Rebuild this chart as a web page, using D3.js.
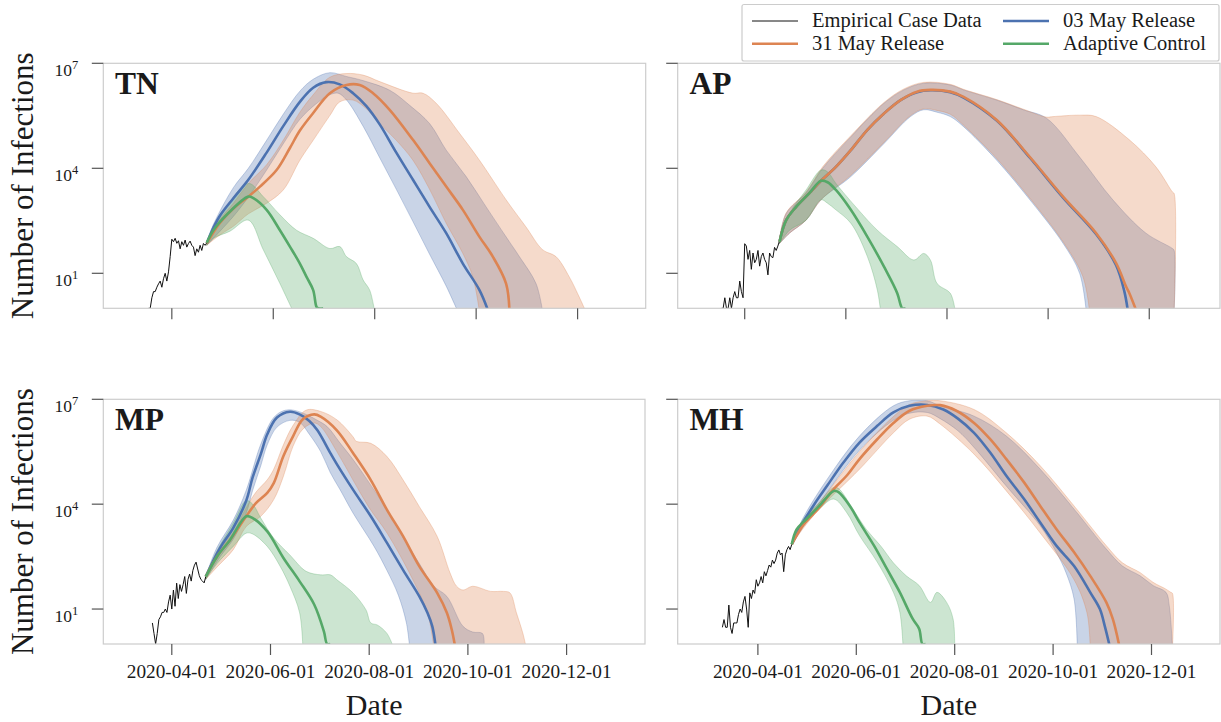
<!DOCTYPE html>
<html><head><meta charset="utf-8">
<script src="https://cdn.jsdelivr.net/npm/d3@7"></script>
<style>
body{margin:0;background:#fff}
svg{display:block}
text{font-family:"Liberation Serif","Times New Roman",serif;fill:#1a1a1a}
</style>
</head><body>
<svg id="c" width="1221" height="722"></svg>
<script>
// ---------------- DATA ----------------
const legendLabels = ["Empirical Case Data", "31 May Release", "03 May Release", "Adaptive Control"];
const xTickLabels = ["2020-04-01", "2020-06-01", "2020-08-01", "2020-10-01", "2020-12-01"];
const yTickValues = [10, 1e4, 1e7];
const stateNames = ["TN", "AP", "MP", "MH"];

// ---- TN ----
const tnEmpStart = "2020-03-18";
const tnEmp = [1,1,2,3,3,4,5,6,4,7,10,6,11,30,94,80,100,72,85,50,80,63,89,56,71,83,63,56,32,50,40,63,45,71,63,74];
const tnBlue = [["2020-04-22",72],["2020-04-26",200],["2020-04-30",450],["2020-05-08",1400],["2020-05-17",4700],["2020-05-28",28000],["2020-06-07",1.6e5],["2020-06-17",7.9e5],["2020-06-25",2.0e6],["2020-07-03",2.9e6],["2020-07-11",2.5e6],["2020-07-19",1.4e6],["2020-07-27",6.0e5],["2020-08-04",1.8e5],["2020-08-14",28000],["2020-08-24",4700],["2020-09-03",790],["2020-09-13",140],["2020-09-23",19],["2020-10-03",3.3],["2020-10-08",0.9]];
const tnBlueHi = [["2020-04-22",80],["2020-04-26",250],["2020-05-08",2800],["2020-05-17",1e4],["2020-05-28",63000],["2020-06-07",3.5e5],["2020-06-17",1.6e6],["2020-06-25",3.5e6],["2020-07-05",5.4e6],["2020-07-15",4.2e6],["2020-07-25",3.2e6],["2020-08-10",1.7e6],["2020-08-22",6.3e5],["2020-09-03",1.9e5],["2020-09-13",33000],["2020-09-25",5800],["2020-10-07",790],["2020-10-19",110],["2020-10-27",30],["2020-11-06",5.1],["2020-11-10",0.8]];
const tnBlueLo = [["2020-04-22",63],["2020-04-30",160],["2020-05-08",420],["2020-05-17",1500],["2020-05-28",8900],["2020-06-07",50000],["2020-06-17",2.5e5],["2020-06-27",7.1e5],["2020-07-05",1.26e6],["2020-07-10",1.4e6],["2020-07-15",9e5],["2020-07-25",1.6e5],["2020-08-04",20000],["2020-08-14",2500],["2020-08-24",300],["2020-09-03",35],["2020-09-13",4.3],["2020-09-20",0.8]];
const tnOrange = [["2020-04-22",72],["2020-04-30",280],["2020-05-08",710],["2020-05-17",1550],["2020-05-24",3000],["2020-06-03",8900],["2020-06-11",38000],["2020-06-17",1.2e5],["2020-06-25",3.8e5],["2020-07-05",1.4e6],["2020-07-15",2.4e6],["2020-07-23",2.4e6],["2020-07-31",1.4e6],["2020-08-10",4.7e5],["2020-08-24",65000],["2020-09-03",14000],["2020-09-13",3000],["2020-09-23",650],["2020-10-03",110],["2020-10-11",30],["2020-10-19",5.1],["2020-10-21",0.9]];
const tnOrangeHi = [["2020-04-22",80],["2020-04-30",350],["2020-05-08",1000],["2020-05-17",3700],["2020-05-28",12600],["2020-06-07",63000],["2020-06-17",4e5],["2020-06-25",1.26e6],["2020-07-05",4e6],["2020-07-15",5.1e6],["2020-07-25",4.6e6],["2020-08-04",3e6],["2020-08-24",1.4e6],["2020-08-30",1.4e6],["2020-09-07",7.2e5],["2020-09-21",1e5],["2020-10-03",17000],["2020-10-19",1260],["2020-10-31",210],["2020-11-10",47],["2020-11-18",30],["2020-11-26",7.9],["2020-12-02",2.1],["2020-12-06",0.8]];
const tnOrangeLo = [["2020-04-22",63],["2020-04-30",126],["2020-05-08",220],["2020-05-17",500],["2020-05-28",1000],["2020-06-07",2400],["2020-06-17",17000],["2020-06-25",63000],["2020-07-05",3.2e5],["2020-07-11",7.9e5],["2020-07-19",8.9e5],["2020-07-27",5e5],["2020-08-04",1.9e5],["2020-08-14",63000],["2020-08-24",17000],["2020-09-03",2500],["2020-09-13",270],["2020-09-23",37],["2020-09-29",7.9],["2020-10-03",0.8]];
const tnGreen = [["2020-04-22",74],["2020-04-26",170],["2020-05-04",470],["2020-05-17",1550],["2020-05-20",1400],["2020-05-28",650],["2020-06-05",170],["2020-06-11",58],["2020-06-17",19],["2020-06-21",7.9],["2020-06-25",3.3],["2020-06-27",1.1],["2020-06-28",1],["2020-07-01",1]];
const tnGreenHi = [["2020-04-22",80],["2020-05-04",790],["2020-05-17",3700],["2020-05-26",1550],["2020-06-05",470],["2020-06-15",170],["2020-06-25",100],["2020-07-05",51],["2020-07-11",58],["2020-07-15",30],["2020-07-21",19],["2020-07-25",6.5],["2020-07-29",3.3],["2020-08-01",0.8]];
const tnGreenLo = [["2020-04-22",63],["2020-04-26",100],["2020-05-06",160],["2020-05-17",330],["2020-05-26",47],["2020-06-05",5.1],["2020-06-13",0.8]];

// ---- AP ----
const apEmpStart = "2020-03-18";
const apEmp = [1,1,2,1,1,2,1,2,3,2,2,6,3,2,70,60,25,45,13,38,20,25,45,16,30,38,25,20,9,38,30,28,55,45,60,85];
const apBlue = [["2020-04-22",80],["2020-04-26",330],["2020-05-02",790],["2020-05-10",1950],["2020-05-17",4400],["2020-05-26",11000],["2020-06-04",33000],["2020-06-14",1.26e5],["2020-06-24",3.7e5],["2020-07-04",8.9e5],["2020-07-14",1.5e6],["2020-07-22",1.7e6],["2020-08-03",1.5e6],["2020-08-11",1.05e6],["2020-08-31",2.3e5],["2020-09-20",20000],["2020-10-10",1450],["2020-10-30",130],["2020-11-11",17],["2020-11-16",3],["2020-11-18",0.9]];
const apBlueHi = [["2020-04-22",89],["2020-04-26",510],["2020-05-08",2000],["2020-05-18",1e4],["2020-06-04",79000],["2020-06-24",7.2e5],["2020-07-06",1.74e6],["2020-07-18",2.7e6],["2020-08-03",2.4e6],["2020-08-11",1.74e6],["2020-08-31",8.9e5],["2020-09-16",4.7e5],["2020-09-30",2.7e5],["2020-10-20",21000],["2020-11-09",1260],["2020-11-29",140],["2020-12-15",51],["2020-12-16",45],["2020-12-16",0.8]];
const apBlueLo = [["2020-04-22",71],["2020-04-28",140],["2020-05-08",330],["2020-05-17",1260],["2020-06-04",5800],["2020-06-24",51000],["2020-07-10",3e5],["2020-07-18",4.7e5],["2020-07-26",4e5],["2020-08-03",3e5],["2020-08-11",1.55e5],["2020-08-31",17000],["2020-09-20",1260],["2020-10-10",72],["2020-10-20",10],["2020-10-24",0.8]];
const apOrange = [["2020-04-22",80],["2020-04-26",330],["2020-05-02",790],["2020-05-10",1950],["2020-05-17",4400],["2020-05-26",11000],["2020-06-04",33000],["2020-06-14",1.26e5],["2020-06-24",3.7e5],["2020-07-04",8.9e5],["2020-07-14",1.55e6],["2020-07-22",1.74e6],["2020-08-03",1.55e6],["2020-08-11",1.1e6],["2020-08-31",2.4e5],["2020-09-20",21000],["2020-10-10",1550],["2020-10-30",140],["2020-11-11",19.5],["2020-11-17",4.2],["2020-11-19",2.7],["2020-11-23",0.9]];
const apOrangeHi = [["2020-04-22",92],["2020-04-26",530],["2020-05-08",2100],["2020-05-18",1.1e4],["2020-06-04",85000],["2020-06-24",7.6e5],["2020-07-06",1.85e6],["2020-07-18",2.85e6],["2020-08-03",2.5e6],["2020-08-11",1.8e6],["2020-08-31",9.2e5],["2020-09-16",4.9e5],["2020-09-30",2.9e5],["2020-10-04",3e5],["2020-10-20",3.3e5],["2020-10-30",3e5],["2020-11-19",65000],["2020-12-05",11000],["2020-12-15",2100],["2020-12-16",1900],["2020-12-16",0.8]];
const apOrangeLo = [["2020-04-22",71],["2020-04-28",140],["2020-05-08",330],["2020-05-17",1260],["2020-06-04",6300],["2020-06-24",55000],["2020-07-10",3.2e5],["2020-07-18",5e5],["2020-07-26",4.5e5],["2020-08-03",3.5e5],["2020-08-11",1.7e5],["2020-08-31",19000],["2020-09-20",1400],["2020-10-10",80],["2020-10-22",8],["2020-10-26",0.8]];
const apGreen = [["2020-04-22",80],["2020-04-26",330],["2020-05-02",790],["2020-05-10",1950],["2020-05-17",4400],["2020-05-21",4000],["2020-05-26",2400],["2020-06-04",650],["2020-06-14",110],["2020-06-24",15.5],["2020-07-02",2.7],["2020-07-04",1.26],["2020-07-05",1],["2020-07-07",1]];
const apGreenHi = [["2020-04-22",89],["2020-04-28",510],["2020-05-08",2400],["2020-05-17",8900],["2020-05-21",7900],["2020-05-26",3700],["2020-06-07",790],["2020-06-20",170],["2020-07-02",58],["2020-07-12",24],["2020-07-18",37],["2020-07-22",24],["2020-07-26",5.1],["2020-08-03",2.7],["2020-08-06",0.8]];
const apGreenLo = [["2020-04-22",71],["2020-04-28",170],["2020-05-08",330],["2020-05-17",1260],["2020-05-21",1000],["2020-05-26",650],["2020-06-04",270],["2020-06-14",30],["2020-06-20",3.3],["2020-06-22",0.8]];

// ---- MP ----
const mpEmpStart = "2020-03-20";
const mpEmp = [4,2,1,2,5,6,8,8,10,8,16,25,10,35,12,55,20,50,32,50,85,28,70,100,63,126,180,220,140,90,70,63,56,85];
const mpBlue = [["2020-04-22",85],["2020-05-01",580],["2020-05-09",2100],["2020-05-17",12600],["2020-05-21",59000],["2020-05-26",2.7e5],["2020-05-30",1e6],["2020-06-05",3e6],["2020-06-13",4.4e6],["2020-06-19",3.7e6],["2020-06-25",2.4e6],["2020-06-30",1.3e6],["2020-07-08",2.9e5],["2020-07-12",1.4e5],["2020-07-22",26000],["2020-08-02",4500],["2020-08-12",780],["2020-08-22",130],["2020-09-01",23],["2020-09-06",7.8],["2020-09-09",3.2],["2020-09-11",0.9]];
const mpBlueHi = [["2020-04-22",89],["2020-04-29",590],["2020-05-09",3500],["2020-05-17",25000],["2020-05-26",5.2e5],["2020-06-03",3e6],["2020-06-09",4.7e6],["2020-06-15",4.9e6],["2020-06-23",3.7e6],["2020-06-30",2.5e6],["2020-07-06",1.66e6],["2020-07-14",5.6e5],["2020-07-22",1.9e5],["2020-08-02",35000],["2020-08-12",6900],["2020-08-22",1100],["2020-09-01",200],["2020-09-10",45],["2020-09-18",23],["2020-09-28",3.2],["2020-10-04",2.2],["2020-10-10",2],["2020-10-11",0.8]];
const mpBlueLo = [["2020-04-22",71],["2020-05-01",320],["2020-05-09",1000],["2020-05-17",5600],["2020-05-21",25000],["2020-05-26",1.26e5],["2020-05-30",5e5],["2020-06-05",1.6e6],["2020-06-13",2.5e6],["2020-06-19",2.2e6],["2020-06-25",1e6],["2020-07-02",3.2e5],["2020-07-08",79000],["2020-07-14",26000],["2020-07-22",5600],["2020-08-04",620],["2020-08-12",126],["2020-08-19",25],["2020-08-24",4],["2020-08-26",0.8]];
const mpOrange = [["2020-04-22",85],["2020-04-29",320],["2020-05-07",950],["2020-05-17",4500],["2020-05-23",10700],["2020-05-30",21000],["2020-06-03",40000],["2020-06-09",2.4e5],["2020-06-15",8.9e5],["2020-06-21",2.7e6],["2020-06-28",3.7e6],["2020-07-02",3.2e6],["2020-07-12",1.3e6],["2020-07-22",2.9e5],["2020-08-02",49000],["2020-08-12",6900],["2020-08-22",1200],["2020-09-01",166],["2020-09-12",29],["2020-09-18",7.8],["2020-09-21",2.6],["2020-09-23",0.9]];
const mpOrangeHi = [["2020-04-22",89],["2020-04-29",400],["2020-05-09",1600],["2020-05-17",7900],["2020-05-23",22000],["2020-05-30",50000],["2020-06-03",1e5],["2020-06-09",5e5],["2020-06-15",1.8e6],["2020-06-23",4.9e6],["2020-07-02",4.5e6],["2020-07-12",2.6e6],["2020-07-22",8.5e5],["2020-07-24",6.3e5],["2020-08-02",5.5e5],["2020-08-12",2.3e5],["2020-08-22",49000],["2020-09-01",8500],["2020-09-12",1200],["2020-09-20",107],["2020-09-24",45],["2020-09-28",35],["2020-10-04",45],["2020-10-15",32],["2020-10-23",32],["2020-10-27",29],["2020-10-31",7.8],["2020-11-04",2],["2020-11-06",0.8]];
const mpOrangeLo = [["2020-04-22",71],["2020-04-29",160],["2020-05-09",500],["2020-05-17",2300],["2020-05-26",4500],["2020-06-03",13500],["2020-06-09",63000],["2020-06-15",4.6e5],["2020-06-21",1.4e6],["2020-06-28",2.1e6],["2020-07-02",1.66e6],["2020-07-12",3.2e5],["2020-07-22",49000],["2020-08-01",7900],["2020-08-12",1500],["2020-08-28",69],["2020-09-06",7.8],["2020-09-10",0.8]];
const mpGreen = [["2020-04-22",85],["2020-04-29",320],["2020-05-07",950],["2020-05-17",4500],["2020-05-21",4000],["2020-05-30",1660],["2020-06-09",290],["2020-06-19",62],["2020-06-28",13.5],["2020-07-04",2.3],["2020-07-06",1],["2020-07-08",1]];
const mpGreenHi = [["2020-04-22",89],["2020-04-29",470],["2020-05-09",2900],["2020-05-17",12600],["2020-05-21",10000],["2020-05-26",4000],["2020-06-03",1070],["2020-06-13",350],["2020-06-23",120],["2020-07-02",95],["2020-07-08",95],["2020-07-12",69],["2020-07-22",29],["2020-07-30",9.5],["2020-08-02",4],["2020-08-06",3.5],["2020-08-12",2],["2020-08-16",0.8]];
const mpGreenLo = [["2020-04-22",71],["2020-04-29",200],["2020-05-09",620],["2020-05-17",1480],["2020-05-21",1400],["2020-05-30",620],["2020-06-07",166],["2020-06-13",45],["2020-06-19",7.8],["2020-06-21",0.8]];

// ---- MH ----
const mhEmpStart = "2020-03-10";
const mhEmp = [3,5,3,3,13,3,2,4,4,4,7,10,8,16,23,10,3,29,20,35,28,69,45,56,85,56,117,89,126,182,158,251,200,251,398,490,355,400,117,355,500,617,500,708];
const mhBlue = [["2020-04-22",710],["2020-04-29",3000],["2020-05-06",10000],["2020-05-14",34000],["2020-05-24",1.55e5],["2020-06-03",5.8e5],["2020-06-14",1.74e6],["2020-06-24",4.2e6],["2020-07-04",6.5e6],["2020-07-15",6.9e6],["2020-07-25",5.1e6],["2020-08-03",2.8e6],["2020-08-13",1.1e6],["2020-08-23",3e5],["2020-09-02",65000],["2020-09-13",14000],["2020-09-23",3000],["2020-10-03",650],["2020-10-14",170],["2020-10-24",30],["2020-10-30",10],["2020-11-02",3.3],["2020-11-05",0.9]];
const mhBlueHi = [["2020-04-22",740],["2020-04-29",4000],["2020-05-14",52000],["2020-06-03",8.9e5],["2020-06-24",6.5e6],["2020-07-04",9.1e6],["2020-07-15",9.1e6],["2020-07-23",6.5e6],["2020-08-13",3.3e6],["2020-09-02",8.9e5],["2020-09-23",1e5],["2020-10-14",7200],["2020-11-03",520],["2020-11-13",170],["2020-11-24",89],["2020-12-02",47],["2020-12-10",30],["2020-12-12",12.6],["2020-12-14",0.8]];
const mhBlueLo = [["2020-04-22",680],["2020-04-29",2200],["2020-05-14",22000],["2020-06-03",3.5e5],["2020-06-24",2.5e6],["2020-07-04",4e6],["2020-07-15",4.2e6],["2020-07-23",2.8e6],["2020-08-03",1.26e6],["2020-08-13",4.2e5],["2020-09-02",33000],["2020-09-23",2400],["2020-10-03",420],["2020-10-09",110],["2020-10-14",19.5],["2020-10-16",0.8]];
const mhOrange = [["2020-04-22",710],["2020-04-29",2500],["2020-05-09",7900],["2020-05-18",27000],["2020-05-26",65000],["2020-06-03",1.95e5],["2020-06-14",7.2e5],["2020-06-24",2.1e6],["2020-07-04",4.7e6],["2020-07-15",6.5e6],["2020-07-23",6.8e6],["2020-08-02",4.7e6],["2020-08-13",2.1e6],["2020-08-23",7.2e5],["2020-09-02",1.95e5],["2020-09-13",42000],["2020-09-23",8900],["2020-10-03",1950],["2020-10-14",420],["2020-10-24",89],["2020-11-03",15.5],["2020-11-07",5.2],["2020-11-11",0.9]];
const mhOrangeHi = [["2020-04-22",740],["2020-04-29",3200],["2020-05-09",11000],["2020-06-03",3.2e5],["2020-06-24",3.2e6],["2020-07-04",7.1e6],["2020-07-15",9.1e6],["2020-07-23",9.1e6],["2020-08-13",5.1e6],["2020-09-02",1.1e6],["2020-09-23",1.26e5],["2020-10-14",8900],["2020-11-03",650],["2020-11-13",210],["2020-11-24",110],["2020-12-02",58],["2020-12-10",37],["2020-12-13",30],["2020-12-14",28],["2020-12-14",0.8]];
const mhOrangeLo = [["2020-04-22",680],["2020-04-29",2000],["2020-05-09",7200],["2020-06-03",1e5],["2020-06-24",1.1e6],["2020-07-04",2.7e6],["2020-07-15",3.3e6],["2020-07-23",1.95e6],["2020-08-13",2.7e5],["2020-09-02",24000],["2020-09-23",1500],["2020-10-14",69],["2020-10-22",7.8],["2020-10-24",0.8]];
const mhGreen = [["2020-04-22",710],["2020-04-25",1900],["2020-05-01",3700],["2020-05-09",8900],["2020-05-18",24000],["2020-05-21",22000],["2020-05-28",8900],["2020-06-03",3000],["2020-06-12",650],["2020-06-20",140],["2020-06-28",30],["2020-07-06",5.2],["2020-07-10",2.7],["2020-07-12",1],["2020-07-14",1]];
const mhGreenHi = [["2020-04-22",740],["2020-04-29",3700],["2020-05-09",11000],["2020-05-18",30000],["2020-05-21",28000],["2020-05-30",7200],["2020-06-07",1950],["2020-06-16",650],["2020-06-24",210],["2020-07-02",89],["2020-07-10",47],["2020-07-17",15.5],["2020-07-21",30],["2020-07-27",15.5],["2020-07-31",5.2],["2020-08-01",0.8]];
const mhGreenLo = [["2020-04-22",680],["2020-04-29",2400],["2020-05-09",7200],["2020-05-18",14000],["2020-05-26",5800],["2020-06-03",1260],["2020-06-14",220],["2020-06-24",30],["2020-06-28",8.1],["2020-06-30",0.8]];

// x-axis limits of each panel
const tnXLim = ["2020-02-19T19:00", "2021-01-10T23:00"];
const apXLim = ["2020-02-20T14:00", "2021-01-12T16:00"];
const mpXLim = ["2020-02-18T16:00", "2021-01-18T11:00"];
const mhXLim = ["2020-02-11T07:00", "2021-01-12T11:00"];

// ---------------- DRAW ----------------
const colBlue = "#4C72B0", colOrange = "#DD8452", colGreen = "#55A868";
const pDay = d3.timeParse("%Y-%m-%d");
const pLim = d3.timeParse("%Y-%m-%dT%H:%M");
const svg = d3.select("#c");

const panels = [
  {name: stateNames[0], lim: tnXLim, empStart: tnEmpStart, emp: tnEmp,
   blue: [tnBlue, tnBlueHi, tnBlueLo], orange: [tnOrange, tnOrangeHi, tnOrangeLo], green: [tnGreen, tnGreenHi, tnGreenLo],
   box: {x: 103.3, y: 63.3, w: 542.4, h: 245}, yLab: true, xLab: false},
  {name: stateNames[1], lim: apXLim, empStart: apEmpStart, emp: apEmp,
   blue: [apBlue, apBlueHi, apBlueLo], orange: [apOrange, apOrangeHi, apOrangeLo], green: [apGreen, apGreenHi, apGreenLo],
   box: {x: 677.7, y: 63.3, w: 542.3, h: 245}, yLab: false, xLab: false},
  {name: stateNames[2], lim: mpXLim, empStart: mpEmpStart, emp: mpEmp,
   blue: [mpBlue, mpBlueHi, mpBlueLo], orange: [mpOrange, mpOrangeHi, mpOrangeLo], green: [mpGreen, mpGreenHi, mpGreenLo],
   box: {x: 103.3, y: 399.3, w: 541.7, h: 244.7}, yLab: true, xLab: true},
  {name: stateNames[3], lim: mhXLim, empStart: mhEmpStart, emp: mhEmp,
   blue: [mhBlue, mhBlueHi, mhBlueLo], orange: [mhOrange, mhOrangeHi, mhOrangeLo], green: [mhGreen, mhGreenHi, mhGreenLo],
   box: {x: 677.7, y: 399.3, w: 542.3, h: 244.7}, yLab: false, xLab: true}
];

const toPts = arr => arr.map(([d, v]) => [pDay(d), v]);

panels.forEach((p, i) => {
  const b = p.box;
  const x = d3.scaleTime().domain(p.lim.map(pLim)).range([b.x, b.x + b.w]);
  const y = d3.scaleLog().domain([1, 1e7]).range([b.y + b.h, b.y]);
  const line = d3.line().x(d => x(d[0])).y(d => y(d[1])).curve(d3.curveCatmullRom.alpha(0.5));
  const band = (hi, lo) => {
    const a = line(toPts(hi));
    const c = line(toPts(lo).reverse());
    return a + "L" + c.slice(1) + "Z";
  };

  const clipId = "clip" + i;
  svg.append("clipPath").attr("id", clipId).append("rect")
    .attr("x", b.x).attr("y", b.y).attr("width", b.w).attr("height", b.h);
  const g = svg.append("g").attr("clip-path", `url(#${clipId})`);

  [[p.blue, colBlue], [p.orange, colOrange], [p.green, colGreen]].forEach(([s, col]) => {
    g.append("path").attr("d", band(s[1], s[2]))
      .attr("fill", col).attr("fill-opacity", 0.3)
      .attr("stroke", col).attr("stroke-opacity", 0.3).attr("stroke-width", 1);
  });

  const t0 = pDay(p.empStart);
  const empPts = p.emp.map((v, k) => [d3.timeDay.offset(t0, k), v]);
  g.append("path").attr("d", d3.line().x(d => x(d[0])).y(d => y(d[1]))(empPts))
    .attr("fill", "none").attr("stroke", "#111").attr("stroke-width", 1);

  [[p.blue, colBlue], [p.orange, colOrange], [p.green, colGreen]].forEach(([s, col]) => {
    g.append("path").attr("d", line(toPts(s[0])))
      .attr("fill", "none").attr("stroke", col).attr("stroke-width", 2.6)
      .attr("stroke-linejoin", "round");
  });

  // frame
  svg.append("rect").attr("x", b.x).attr("y", b.y).attr("width", b.w).attr("height", b.h)
    .attr("fill", "none").attr("stroke", "#cccccc").attr("stroke-width", 1.2);

  // y ticks
  yTickValues.forEach(v => {
    const yy = y(v);
    svg.append("line").attr("x1", b.x - 11.5).attr("x2", b.x).attr("y1", yy).attr("y2", yy)
      .attr("stroke", "#555").attr("stroke-width", 1.2);
    if (p.yLab) {
      const t = svg.append("text").attr("x", b.x - 25).attr("y", yy + 12.5)
        .attr("text-anchor", "end").style("font-size", "17.5px").text("10");
      t.append("tspan").attr("dy", -7).style("font-size", "12.5px").text(String(Math.round(Math.log10(v))));
    }
  });

  // x ticks
  xTickLabels.forEach(s => {
    const xx = x(pDay(s));
    svg.append("line").attr("x1", xx).attr("x2", xx).attr("y1", b.y + b.h).attr("y2", b.y + b.h + 11)
      .attr("stroke", "#555").attr("stroke-width", 1.2);
    if (p.xLab) {
      svg.append("text").attr("x", xx).attr("y", b.y + b.h + 34.3)
        .attr("text-anchor", "middle").style("font-size", "19.3px").text(s);
    }
  });

  // panel label
  svg.append("text").attr("x", b.x + 11.7).attr("y", b.y + 31)
    .style("font-size", "31.5px").style("font-weight", "bold").text(p.name);

  if (p.yLab) {
    svg.append("text").attr("transform", `translate(33,${b.y + b.h / 2}) rotate(-90)`)
      .attr("text-anchor", "middle").style("font-size", "31px").text("Number of Infections");
  }
  if (p.xLab) {
    svg.append("text").attr("x", b.x + b.w / 2).attr("y", 715)
      .attr("text-anchor", "middle").style("font-size", "30px").text("Date");
  }
});

// legend
const lg = svg.append("g");
lg.append("rect").attr("x", 742).attr("y", 4.5).attr("width", 477).attr("height", 56.5)
  .attr("rx", 2).attr("fill", "#fff").attr("stroke", "#cccccc").attr("stroke-width", 1.2);
const legendItems = [
  {label: legendLabels[0], color: "#111", w: 1, hx: 752, row: 0},
  {label: legendLabels[1], color: colOrange, w: 2.6, hx: 752, row: 1},
  {label: legendLabels[2], color: colBlue, w: 2.6, hx: 1003, row: 0},
  {label: legendLabels[3], color: colGreen, w: 2.6, hx: 1003, row: 1}
];
legendItems.forEach(it => {
  const yy = 21 + it.row * 22.7;
  lg.append("line").attr("x1", it.hx).attr("x2", it.hx + 46).attr("y1", yy).attr("y2", yy)
    .attr("stroke", it.color).attr("stroke-width", it.w);
  lg.append("text").attr("x", it.hx + 60).attr("y", yy + 6.3).style("font-size", "20.5px").text(it.label);
});
</script>
</body></html>
